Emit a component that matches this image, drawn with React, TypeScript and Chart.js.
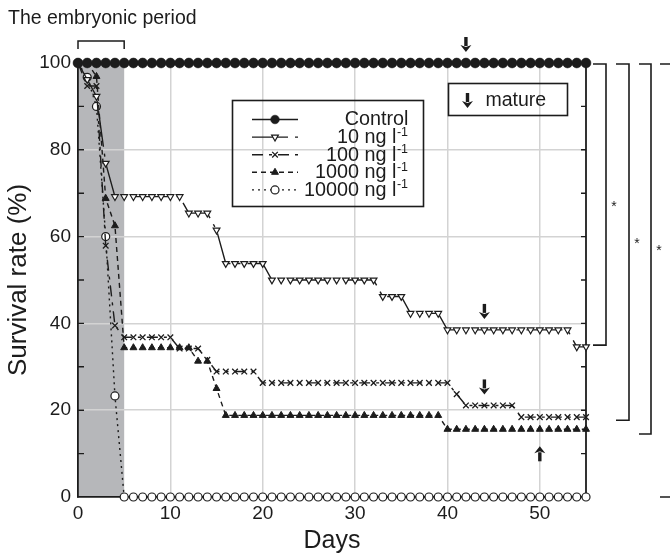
import { useEffect, useRef } from 'react';
import { Chart, registerables } from 'chart.js';

Chart.register(...registerables);

const FONT = "'Liberation Sans', Arial, Helvetica, sans-serif";
const INK = '#1c1c1c';
const GRID = '#d3d3d3';
const SHADE = '#b6b7ba';

// Days after fertilisation
const days = [
  0, 1, 2, 3, 4, 5, 6, 7, 8, 9,
  10, 11, 12, 13, 14, 15, 16, 17, 18, 19,
  20, 21, 22, 23, 24, 25, 26, 27, 28, 29,
  30, 31, 32, 33, 34, 35, 36, 37, 38, 39,
  40, 41, 42, 43, 44, 45, 46, 47, 48, 49,
  50, 51, 52, 53, 54, 55,
];

// Survival rate (%) per group
const control = [
  100, 100, 100, 100, 100, 100, 100, 100, 100, 100,
  100, 100, 100, 100, 100, 100, 100, 100, 100, 100,
  100, 100, 100, 100, 100, 100, 100, 100, 100, 100,
  100, 100, 100, 100, 100, 100, 100, 100, 100, 100,
  100, 100, 100, 100, 100, 100, 100, 100, 100, 100,
  100, 100, 100, 100, 100, 100,
];
const ng10 = [
  100, 96.2, 92.3, 76.9, 69.2, 69.2, 69.2, 69.2, 69.2, 69.2,
  69.2, 69.2, 65.4, 65.4, 65.4, 61.5, 53.8, 53.8, 53.8, 53.8,
  53.8, 50, 50, 50, 50, 50, 50, 50, 50, 50,
  50, 50, 50, 46.2, 46.2, 46.2, 42.3, 42.3, 42.3, 42.3,
  38.5, 38.5, 38.5, 38.5, 38.5, 38.5, 38.5, 38.5, 38.5, 38.5,
  38.5, 38.5, 38.5, 38.5, 34.6, 34.6,
];
const ng100 = [
  100, 94.7, 94.7, 57.9, 39.5, 36.8, 36.8, 36.8, 36.8, 36.8,
  36.8, 34.2, 34.2, 34.2, 31.6, 28.9, 28.9, 28.9, 28.9, 28.9,
  26.3, 26.3, 26.3, 26.3, 26.3, 26.3, 26.3, 26.3, 26.3, 26.3,
  26.3, 26.3, 26.3, 26.3, 26.3, 26.3, 26.3, 26.3, 26.3, 26.3,
  26.3, 23.7, 21.1, 21.1, 21.1, 21.1, 21.1, 21.1, 18.4, 18.4,
  18.4, 18.4, 18.4, 18.4, 18.4, 18.4,
];
const ng1000 = [
  100, 100, 96.9, 68.8, 62.5, 34.4, 34.4, 34.4, 34.4, 34.4,
  34.4, 34.4, 34.4, 31.3, 31.3, 25, 18.8, 18.8, 18.8, 18.8,
  18.8, 18.8, 18.8, 18.8, 18.8, 18.8, 18.8, 18.8, 18.8, 18.8,
  18.8, 18.8, 18.8, 18.8, 18.8, 18.8, 18.8, 18.8, 18.8, 18.8,
  15.6, 15.6, 15.6, 15.6, 15.6, 15.6, 15.6, 15.6, 15.6, 15.6,
  15.6, 15.6, 15.6, 15.6, 15.6, 15.6,
];
const ng10000 = [
  100, 96.7, 90, 60, 23.3, 0, 0, 0, 0, 0,
  0, 0, 0, 0, 0, 0, 0, 0, 0, 0,
  0, 0, 0, 0, 0, 0, 0, 0, 0, 0,
  0, 0, 0, 0, 0, 0, 0, 0, 0, 0,
  0, 0, 0, 0, 0, 0, 0, 0, 0, 0,
  0, 0, 0, 0, 0, 0,
];

const seriesLabels = ['Control', '10 ng l', '100 ng l', '1000 ng l', '10000 ng l'];
const seriesUnitSup = ['', '-1', '-1', '-1', '-1'];
const seriesValues = [control, ng10, ng100, ng1000, ng10000];

const xTicks = [0, 10, 20, 30, 40, 50];
const yTicks = [0, 20, 40, 60, 80, 100];
const yMinorTicks = [10, 20, 30, 40, 50, 60, 70, 80, 90];

// embryonic period (days)
const embryonicPeriod = [0, 5];
// maturation marks: day, survival level the arrow refers to, direction
const matureDays = [42, 44, 44, 50];
const matureLevels = [100, 38.5, 21.1, 15.6];
const matureDirections = ['down', 'down', 'down', 'up'];
// lower ends of the significance brackets (all start at the control level)
const significanceEnds = [35, 17.7, 14.5, 0];

type Marker = { shape: string; radius: number; fill: string; border: number; rotation: number; dash: number[] };
const seriesMarkers: Marker[] = [
  { shape: 'circle', radius: 4.9, fill: INK, border: 0.6, rotation: 0, dash: [] },
  { shape: 'triangle', radius: 3.9, fill: '#ffffff', border: 1.2, rotation: 180, dash: [36, 7, 3, 7] },
  { shape: 'crossRot', radius: 4, fill: INK, border: 1.3, rotation: 0, dash: [11, 6, 3, 6] },
  { shape: 'triangle', radius: 4, fill: INK, border: 1, rotation: 0, dash: [5, 4] },
  { shape: 'circle', radius: 4, fill: '#ffffff', border: 1.2, rotation: 0, dash: [2, 4] },
];

function drawMarker(ctx: CanvasRenderingContext2D, m: Marker, x: number, y: number) {
  ctx.save();
  ctx.setLineDash([]);
  ctx.lineWidth = m.border;
  ctx.strokeStyle = INK;
  ctx.fillStyle = m.fill;
  ctx.beginPath();
  if (m.shape === 'circle') {
    ctx.arc(x, y, m.radius, 0, Math.PI * 2);
    ctx.fill();
    ctx.stroke();
  } else if (m.shape === 'triangle') {
    let rad = (m.rotation * Math.PI) / 180;
    ctx.moveTo(x + Math.sin(rad) * m.radius, y - Math.cos(rad) * m.radius);
    rad += (2 * Math.PI) / 3;
    ctx.lineTo(x + Math.sin(rad) * m.radius, y - Math.cos(rad) * m.radius);
    rad += (2 * Math.PI) / 3;
    ctx.lineTo(x + Math.sin(rad) * m.radius, y - Math.cos(rad) * m.radius);
    ctx.closePath();
    ctx.fill();
    ctx.stroke();
  } else {
    const d = m.radius * Math.SQRT1_2;
    ctx.moveTo(x - d, y - d);
    ctx.lineTo(x + d, y + d);
    ctx.moveTo(x + d, y - d);
    ctx.lineTo(x - d, y + d);
    ctx.stroke();
  }
  ctx.restore();
}

function drawArrow(ctx: CanvasRenderingContext2D, x: number, tipY: number, dir: number) {
  // dir = 1 points down, -1 points up
  const len = 15;
  const headH = 7;
  const headW = 11;
  ctx.save();
  ctx.setLineDash([]);
  ctx.fillStyle = INK;
  ctx.strokeStyle = INK;
  ctx.lineWidth = 3.4;
  ctx.beginPath();
  ctx.moveTo(x, tipY - dir * len);
  ctx.lineTo(x, tipY - dir * (headH - 1));
  ctx.stroke();
  ctx.beginPath();
  ctx.moveTo(x, tipY);
  ctx.lineTo(x - headW / 2, tipY - dir * headH);
  ctx.lineTo(x, tipY - dir * (headH - 2));
  ctx.lineTo(x + headW / 2, tipY - dir * headH);
  ctx.closePath();
  ctx.fill();
  ctx.restore();
}

const decorations = {
  id: 'decorations',
  beforeDraw(chart: any) {
    const { ctx } = chart;
    const x = chart.scales.x;
    const y = chart.scales.y;
    const x0 = x.getPixelForValue(embryonicPeriod[0]);
    const x1 = x.getPixelForValue(embryonicPeriod[1]);
    const yTop = y.getPixelForValue(100);
    const yBot = y.getPixelForValue(0);
    ctx.save();
    ctx.fillStyle = SHADE;
    ctx.fillRect(x0, yTop, x1 - x0, yBot - yTop);
    ctx.restore();
  },
  beforeDatasetsDraw(chart: any) {
    const { ctx, chartArea } = chart;
    const y = chart.scales.y;
    ctx.save();
    ctx.strokeStyle = INK;
    ctx.lineWidth = 1.8;
    // right-hand axis line
    ctx.beginPath();
    ctx.moveTo(chartArea.right, y.getPixelForValue(100));
    ctx.lineTo(chartArea.right, y.getPixelForValue(0));
    ctx.stroke();
    // inward minor ticks on both vertical axes
    ctx.lineWidth = 1.4;
    yMinorTicks.forEach((v) => {
      const py = y.getPixelForValue(v);
      ctx.beginPath();
      ctx.moveTo(chartArea.left, py);
      ctx.lineTo(chartArea.left + 6, py);
      ctx.moveTo(chartArea.right, py);
      ctx.lineTo(chartArea.right - 5, py);
      ctx.stroke();
    });
    ctx.restore();
  },
  afterDraw(chart: any) {
    const { ctx } = chart;
    const x = chart.scales.x;
    const y = chart.scales.y;
    const yTop = y.getPixelForValue(100);
    ctx.save();
    ctx.fillStyle = INK;
    ctx.strokeStyle = INK;

    // embryonic period caption and bracket
    ctx.font = `19.5px ${FONT}`;
    ctx.textAlign = 'left';
    ctx.textBaseline = 'middle';
    ctx.fillText('The embryonic period', 8, 19);
    const x0 = x.getPixelForValue(embryonicPeriod[0]);
    const x1 = x.getPixelForValue(embryonicPeriod[1]);
    ctx.lineWidth = 1.5;
    ctx.beginPath();
    ctx.moveTo(x0, 49);
    ctx.lineTo(x0, 41);
    ctx.lineTo(x1, 41);
    ctx.lineTo(x1, 49);
    ctx.stroke();

    // legend
    ctx.lineWidth = 1.6;
    ctx.strokeRect(232.5, 100.5, 191, 106);
    seriesLabels.forEach((label, i) => {
      const m = seriesMarkers[i];
      const rowY = 119.5 + i * 17.6;
      ctx.save();
      ctx.lineWidth = 1.4;
      ctx.setLineDash(m.dash);
      ctx.beginPath();
      ctx.moveTo(252, rowY);
      ctx.lineTo(298, rowY);
      ctx.stroke();
      ctx.restore();
      drawMarker(ctx, i === 0 ? { ...m, radius: 4.3 } : m, 275, rowY);
      const sup = seriesUnitSup[i];
      ctx.font = `12.5px ${FONT}`;
      const supW = sup ? ctx.measureText(sup).width : 0;
      ctx.font = `19.8px ${FONT}`;
      ctx.textAlign = 'right';
      ctx.textBaseline = 'middle';
      ctx.fillText(label, 408.5 - supW - (sup ? 1 : 0), rowY + 0.5);
      if (sup) {
        ctx.font = `12.5px ${FONT}`;
        ctx.textAlign = 'left';
        ctx.fillText(sup, 408 - supW, rowY - 5);
      }
    });

    // "mature" key
    ctx.lineWidth = 1.6;
    ctx.strokeRect(448.5, 83.5, 119, 32);
    drawArrow(ctx, 467.5, 108, 1);
    ctx.font = `19.5px ${FONT}`;
    ctx.textAlign = 'left';
    ctx.textBaseline = 'middle';
    ctx.fillText('mature', 485.5, 100.5);

    // maturation arrows
    matureDays.forEach((d, i) => {
      const px = x.getPixelForValue(d);
      const py = y.getPixelForValue(matureLevels[i]);
      if (matureDirections[i] === 'down') drawArrow(ctx, px, py - 11, 1);
      else drawArrow(ctx, px, py + 17, -1);
    });

    // significance brackets
    const bracketX = [[593, 606], [616, 629], [639, 651], [660, 674]];
    ctx.lineWidth = 1.6;
    ctx.font = `14px ${FONT}`;
    ctx.textAlign = 'center';
    ctx.textBaseline = 'middle';
    significanceEnds.forEach((v, i) => {
      const [a, b] = bracketX[i];
      const yb = y.getPixelForValue(v);
      ctx.beginPath();
      ctx.moveTo(a, yTop + 1);
      ctx.lineTo(b, yTop + 1);
      ctx.lineTo(b, yb);
      ctx.lineTo(a, yb);
      ctx.stroke();
      if (i < 3) ctx.fillText('*', b + 8, (yTop + yb) / 2 + 3);
    });
    ctx.restore();
  },
};

export default function App() {
  const ref = useRef<HTMLCanvasElement>(null);

  useEffect(() => {
    const canvas = ref.current;
    if (!canvas) return;
    const datasets = seriesValues.map((vals, i) => {
      const m = seriesMarkers[i];
      return {
        label: seriesLabels[i],
        data: days.map((d, k) => ({ x: d, y: vals[k] })),
        borderColor: INK,
        backgroundColor: m.fill,
        borderWidth: 1.4,
        borderDash: m.dash,
        pointStyle: m.shape,
        pointRadius: m.radius,
        pointRotation: m.rotation,
        pointBackgroundColor: m.fill,
        pointBorderColor: INK,
        pointBorderWidth: m.border,
        tension: 0,
        clip: false,
      };
    });

    const chart = new Chart(canvas, {
      type: 'line',
      data: { datasets } as any,
      options: {
        responsive: false,
        animation: false,
        devicePixelRatio: 1,
        layout: { padding: { top: 63, right: 84, bottom: 0, left: 0 } },
        plugins: { legend: { display: false }, tooltip: { enabled: false } },
        scales: {
          x: {
            type: 'linear',
            min: 0,
            max: 55,
            afterBuildTicks: (s: any) => {
              s.ticks = xTicks.map((v) => ({ value: v }));
            },
            afterFit: (s: any) => {
              s.height = 57;
            },
            ticks: { font: { family: FONT, size: 19 }, color: INK, padding: 5, autoSkip: false, maxRotation: 0 },
            grid: {
              drawTicks: false,
              lineWidth: 1.5,
              color: (c: any) => (c.tick && c.tick.value > 0 && c.tick.value < 55 ? GRID : 'rgba(0,0,0,0)'),
            },
            border: { display: true, color: INK, width: 1.8 },
            title: {
              display: true,
              text: 'Days',
              color: INK,
              font: { family: FONT, size: 25, lineHeight: 1 },
              padding: { top: 0, bottom: 0 },
            },
          },
          y: {
            type: 'linear',
            min: 0,
            max: 100,
            afterBuildTicks: (s: any) => {
              s.ticks = yTicks.map((v) => ({ value: v }));
            },
            afterFit: (s: any) => {
              s.width = 78;
            },
            ticks: { font: { family: FONT, size: 19 }, color: INK, padding: 7, autoSkip: false },
            grid: {
              drawTicks: false,
              lineWidth: 1.5,
              color: (c: any) => (c.tick && c.tick.value > 0 && c.tick.value < 100 ? GRID : 'rgba(0,0,0,0)'),
            },
            border: { display: true, color: INK, width: 1.8 },
            title: {
              display: true,
              text: 'Survival rate (%)',
              color: INK,
              font: { family: FONT, size: 26, lineHeight: 1 },
              padding: { top: 6, bottom: 0 },
            },
          },
        },
      },
      plugins: [decorations],
    } as any);

    return () => chart.destroy();
  }, []);

  return (
    <div style={{ position: 'fixed', left: 0, top: 0, width: 670, height: 554, background: '#ffffff' }}>
      <canvas ref={ref} width={670} height={554} style={{ display: 'block', width: 670, height: 554 }} />
    </div>
  );
}
